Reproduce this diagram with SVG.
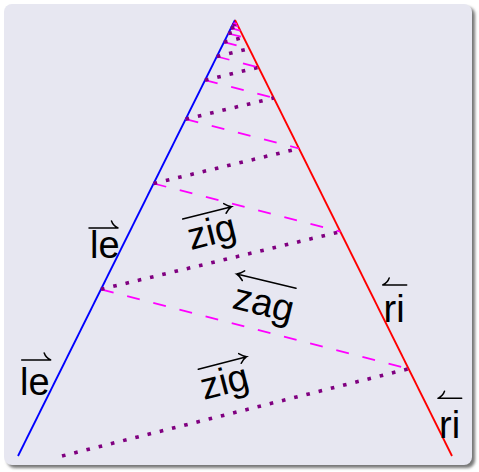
<svg xmlns="http://www.w3.org/2000/svg" width="479" height="472" viewBox="0 0 479 472">
<defs>
<filter id="sh" x="-5%" y="-5%" width="110%" height="110%"><feGaussianBlur stdDeviation="1.5"/></filter>
<style>
.lbl{font-family:"Liberation Sans","DejaVu Sans",sans-serif;font-size:38px;fill:#000}
.ar{fill:none;stroke:#000;stroke-width:1.5;stroke-linecap:round}
.zig{fill:none;stroke:#800080;stroke-width:3.6;stroke-dasharray:3.6 9}
.zag{fill:none;stroke:#ff00ff;stroke-width:1.8;stroke-dasharray:13 14}
</style>
</defs>
<rect x="0" y="0" width="479" height="472" fill="#ffffff"/>
<rect x="7" y="7" width="468" height="461" rx="8" fill="#777" filter="url(#sh)"/>
<rect x="4" y="4" width="468" height="461" rx="8" fill="#e7e7f1"/>
<g id="sides">
<line x1="235" y1="20" x2="18" y2="456" stroke="#0000ff" stroke-width="1.8"/>
<line x1="235" y1="20" x2="452" y2="456" stroke="#ff0000" stroke-width="1.8"/>
</g>
<g id="connectors">
<path class="zig" d="M62 456 L408.6 368.8"/>
<path class="zag" d="M101.0 289.3 L408.6 368.8"/>
<path class="zig" d="M101.0 289.3 L340.4 231.7"/>
<path class="zag" d="M153.6 183.5 L340.4 231.7"/>
<path class="zig" d="M153.6 183.5 L299.0 148.5"/>
<path class="zag" d="M185.6 119.2 L299.0 148.5"/>
<path class="zig" d="M185.6 119.2 L273.8 98.0"/>
<path class="zag" d="M205.0 80.2 L273.8 98.0"/>
<path class="zig" d="M205.0 80.2 L258.6 67.3"/>
<path class="zag" d="M216.8 56.5 L258.6 67.3"/>
<path class="zig" d="M216.8 56.5 L249.3 48.7"/>
<path class="zag" d="M224.0 42.2 L249.3 48.7"/>
<path class="zig" d="M224.0 42.2 L243.7 37.4"/>
<path class="zag" d="M228.3 33.5 L243.7 37.4"/>
<path class="zig" d="M228.3 33.5 L240.3 30.6"/>
<path class="zag" d="M230.9 28.2 L240.3 30.6"/>
<path class="zig" d="M230.9 28.2 L238.2 26.4"/>
<path class="zag" d="M232.5 25.0 L238.2 26.4"/>
<path class="zig" d="M232.5 25.0 L236.9 23.9"/>
<path class="zag" d="M233.5 23.0 L236.9 23.9"/>
</g>
<g id="label-le1">
<path class="ar" d="M89 228 H118 M118 228 C115 226.5 112.5 224 111.5 221"/>
<text class="lbl" x="90" y="258">le</text>
</g>
<g id="label-le2">
<path class="ar" d="M21.7 360 H50.7 M50.7 360 C47.7 358.5 45.2 356 44.2 353"/>
<text class="lbl" x="20" y="395">le</text>
</g>
<g id="label-ri1">
<path class="ar" d="M382.7 285 H406.7 M382.7 285 C385.7 283.5 388.2 281 389.2 278"/>
<text class="lbl" x="383.5" y="321.7">ri</text>
</g>
<g id="label-ri2">
<path class="ar" d="M438 398.3 H461.7 M438 398.3 C441 396.8 443.5 394.3 444.5 391.3"/>
<text class="lbl" x="439" y="438">ri</text>
</g>
<g id="label-zig1">
<g transform="translate(182.7 219) rotate(-14.1)"><path class="ar" d="M0 0 H50.5 M43.5 -5 Q47.5 -1 50.5 0 Q47.5 1 43.5 5"/></g>
<text class="lbl" x="191" y="250" transform="rotate(-14 191 250)">zig</text>
</g>
<g id="label-zag">
<g transform="translate(296 288.3) rotate(193.56)"><path class="ar" d="M0 0 H61 M54 -5 Q58 -1 61 0 Q58 1 54 5"/></g>
<text class="lbl" x="231" y="308" transform="rotate(13.6 231 308)">zag</text>
</g>
<g id="label-zig2">
<g transform="translate(198.3 369.3) rotate(-14.6)"><path class="ar" d="M0 0 H50 M43 -5 Q47 -1 50 0 Q47 1 43 5"/></g>
<text class="lbl" x="204" y="400" transform="rotate(-14.5 204 400)">zig</text>
</g>
</svg>
